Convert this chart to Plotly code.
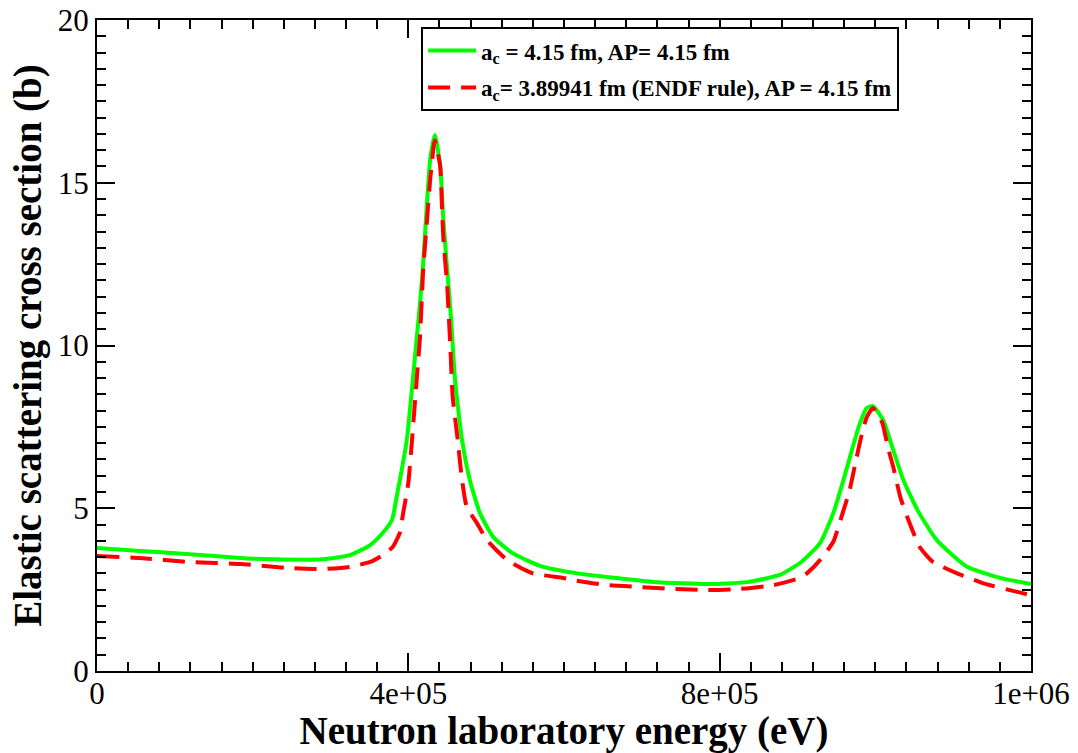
import plotly.graph_objects as go

# Energies (eV) and elastic cross sections (b)
energy_green = [0, 55e3, 119e3, 184e3, 226e3, 290e3, 325e3, 351e3, 367e3, 379e3, 385e3,
                398e3, 409e3, 415e3, 419e3, 424e3, 428e3, 434e3, 441e3, 445e3, 450e3,
                455e3, 460e3, 469e3, 479e3, 492e3, 509e3, 534e3, 569e3, 617e3, 655e3,
                719e3, 784e3, 835e3, 877e3, 905e3, 929e3, 946e3, 958e3, 971e3, 980e3,
                989e3, 997e3, 1010e3, 1023e3, 1036e3, 1054e3, 1079e3, 1118e3, 1160e3, 1200e3]
sigma_green = [3.78, 3.69, 3.59, 3.47, 3.43, 3.43, 3.56, 3.87, 4.24, 4.64, 5.35,
               7.1, 9.77, 11.3, 12.5, 14.4, 15.7, 16.47, 15.5, 13.85, 12.3,
               10.8, 8.94, 7.1, 5.87, 4.85, 4.12, 3.62, 3.23, 3.0, 2.89,
               2.73, 2.67, 2.73, 2.95, 3.35, 3.93, 4.85, 5.78, 6.88, 7.6,
               8.08, 8.14, 7.71, 6.79, 5.87, 4.95, 4.02, 3.2, 2.86, 2.67]

energy_red = [0, 55e3, 119e3, 184e3, 248e3, 290e3, 325e3, 351e3, 367e3, 380e3, 389e3,
              393e3, 400e3, 405e3, 411e3, 415e3, 419e3, 424e3, 428e3, 434e3, 441e3,
              443e3, 445e3, 450e3, 454e3, 457e3, 463e3, 469e3, 475e3, 488e3, 501e3,
              527e3, 560e3, 599e3, 615e3, 655e3, 698e3, 740e3, 784e3, 826e3, 869e3,
              903e3, 912e3, 929e3, 946e3, 958e3, 967e3, 976e3, 983e3, 989e3, 997e3,
              1009e3, 1016e3, 1023e3, 1032e3, 1041e3, 1057e3, 1074e3, 1105e3, 1138e3,
              1182e3, 1200e3]
sigma_red = [3.53, 3.47, 3.35, 3.29, 3.16, 3.13, 3.2, 3.35, 3.56, 3.81, 4.24,
             4.8, 5.78, 7.19, 9.03, 10.26, 12.3, 13.85, 15.08, 16.3, 15.5,
             14.4, 13.3, 11.8, 9.95, 8.42, 7.19, 5.87, 5.04, 4.55, 4.02,
             3.41, 3.0, 2.86, 2.78, 2.64, 2.58, 2.52, 2.49, 2.52, 2.64,
             2.86, 3.0, 3.41, 3.97, 4.85, 5.56, 6.57, 7.31, 7.8, 8.08,
             7.62, 6.88, 6.27, 5.35, 4.73, 3.81, 3.35, 3.0, 2.7,
             2.43, 2.33]

x_tickvals = [0, 4e5, 8e5, 1.2e6]
x_ticktext = ["0", "4e+05", "8e+05", "1e+06"]
y_tickvals = [0, 5, 10, 15, 20]

name_green = "a<sub>c</sub> = 4.15 fm, AP= 4.15 fm"
name_red = "a<sub>c</sub>= 3.89941 fm (ENDF rule), AP = 4.15 fm"

SERIF = "Liberation Serif"

fig = go.Figure()
fig.add_trace(go.Scatter(x=energy_green, y=sigma_green, mode="lines", name=name_green,
                         legendgroup="g1",
                         line=dict(color="#00ff00", width=4, shape="spline", smoothing=0.5)))
fig.add_trace(go.Scatter(x=energy_red, y=sigma_red, mode="lines", name=name_red,
                         legendgroup="g2",
                         line=dict(color="#ff0000", width=4, dash="22px,11px",
                                   shape="spline", smoothing=0.5)))

axis_common = dict(showline=True, linecolor="black", linewidth=2, mirror="allticks",
                   ticks="inside", ticklen=18, tickwidth=2, tickcolor="black",
                   showgrid=False, zeroline=False, automargin=False,
                   tickfont=dict(family=SERIF, size=31, color="black"))

fig.update_xaxes(range=[0, 1.2e6], tickmode="array", tickvals=x_tickvals, ticktext=x_ticktext,
                 ticklabelstandoff=-6,
                 minor=dict(dtick=4e4, ticklen=9, tickwidth=2, tickcolor="black", ticks="inside"),
                 title=dict(text="Neutron laboratory energy (eV)", standoff=0,
                            font=dict(family=SERIF, size=39, color="black", weight="bold")),
                 **axis_common)
fig.update_yaxes(range=[0, 20], tickmode="array", tickvals=y_tickvals,
                 minor=dict(dtick=0.5, ticklen=9, tickwidth=2, tickcolor="black", ticks="inside"),
                 title=dict(text="Elastic scattering cross section (b)", standoff=4,
                            font=dict(family=SERIF, size=39, color="black", weight="bold")),
                 **axis_common)

fig.update_layout(
    width=1078, height=753,
    margin=dict(l=97, r=47, t=20, b=82, autoexpand=False),
    paper_bgcolor="white", plot_bgcolor="white",
    showlegend=True,
    legend=dict(x=0.347, y=0.989, xanchor="left", yanchor="top",
                bgcolor="white", bordercolor="black", borderwidth=2,
                itemwidth=48,
                font=dict(family=SERIF, size=23, color="black", weight="bold"),
                tracegroupgap=4),
)

fig.write_html("out.html", config={"displayModeBar": False},
               post_script="document.body.style.margin='0';")
